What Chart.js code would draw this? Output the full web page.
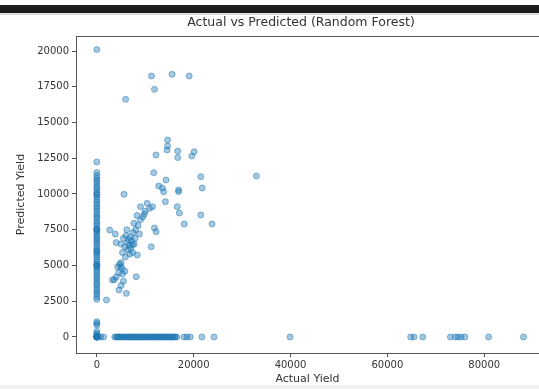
<!DOCTYPE html>
<html>
<head>
<meta charset="utf-8">
<script src="https://cdn.jsdelivr.net/npm/chart.js@4"></script>
<style>
  html, body { margin: 0; padding: 0; background: #fff; overflow: hidden; }
  #wrap { position: relative; width: 539px; height: 389px; }
  #topbar { position: absolute; left: 0; top: 5px; width: 539px; height: 8px; background: #1c1c1c; }
  #topline { position: absolute; left: 0; top: 13px; width: 539px; height: 2px; background: #ddd; }
  #bottomstrip { position: absolute; left: 0; top: 385px; width: 539px; height: 4px; background: #f0f0f0; }
  canvas { position: absolute; left: 0; top: 0; }
</style>
</head>
<body>
<div id="wrap">
  <canvas id="scatter" width="539" height="389"></canvas>
  <div id="topbar"></div>
  <div id="topline"></div>
  <div id="bottomstrip"></div>
</div>
<script>
// predicted values where actual yield is 0
const zeroActualPred = [0, 0, 0, 0, 60, 150, 250, 400, 840, 950, 1070,
  2640, 2800, 3000, 3150, 3300, 3500, 3650, 3800, 4000, 4150, 4300, 4500, 4650, 4800, 4950,
  5000, 5000, 5100, 5250, 5400, 5600, 5750, 5900, 6000, 6050, 6200, 6400, 6550, 6700, 6850, 7000,
  7150, 7300, 7450, 7500, 7500, 7600, 7800, 7950, 8100, 8300, 8450, 8600, 8800, 8950, 9100, 9300,
  9450, 9600, 9800, 9950, 10000, 10100, 10300, 10450, 10600, 10800, 10950, 11100, 11300,
  11500, 12240, 20100];

// actual values where predicted yield is 0
const zeroPredActual = [0, 0, 0, 300, 800, 1400, 3700, 4000, 4200, 4500, 4700, 5000, 5200,
  5500, 5700, 6000, 6200, 6500, 6700, 7000, 7200, 7500, 7700, 8000, 8200, 8500, 8700, 9000,
  9200, 9500, 9700, 10000, 10200, 10500, 10700, 11000, 11200, 11500, 11700, 12000, 12200,
  12500, 12700, 13000, 13200, 13500, 13700, 14000, 14200, 14500, 14700, 15000, 15200, 15500,
  15700, 16000, 16200, 16500, 18000, 18600, 19300, 21700, 24200,
  39900, 64800, 65500, 67300, 73000, 74000, 74600, 75200, 76000, 80900, 88100];

// remaining (actual, predicted) pairs
const pairActual = [11280, 15530, 19075, 11900, 5950,
  14600, 14600, 14500, 12200, 16700, 16700, 20100, 19600,
  11750, 14290, 13540, 12780, 16880, 21470, 21750, 32960,
  5600, 13800, 16880, 14150, 11490, 10400, 9020, 16610, 17030, 21470, 18050, 23790, 7650,
  2670, 11900, 12240, 11220, 8350, 8140, 3220, 4580, 6090, 1990,
  5000, 5500, 6000, 6300, 6600, 6900, 7200, 7500, 7000, 6400, 5800, 8000, 8500, 9000,
  8800, 7700, 6200, 5300, 6800, 7400, 9500, 10000, 8300, 7900, 6700, 5900, 4000, 3800,
  7380, 10900, 9800,
  4920, 4700, 5200, 5000, 4500, 5300, 4300, 4000, 5500, 5800, 3600, 5000];
const pairPredicted = [18250, 18370, 18250, 17320, 16620,
  13780, 13360, 13080, 12730, 13000, 12550, 12960, 12650,
  11490, 10980, 10420, 10560, 10280, 11210, 10420, 11260,
  9980, 10160, 10160, 9460, 9110, 9350, 9110, 9110, 8670, 8530, 7900, 7900, 7950,
  7480, 7620, 7360, 6310, 5730, 4220, 3990, 3290, 3050, 2590,
  6500, 6900, 7100, 6600, 6800, 7000, 6700, 7300, 6200, 6100, 6300, 7500, 7800, 8200,
  7200, 6500, 7500, 5900, 5800, 5900, 8400, 8800, 8500, 6900, 6400, 5600, 6600, 7200,
  6430, 9000, 8600,
  4920, 5100, 4800, 5200, 4500, 4400, 4900, 4200, 3900, 4600, 4000, 3600];

const xTicks = [0, 20000, 40000, 60000, 80000];
const yTicks = [0, 2500, 5000, 7500, 10000, 12500, 15000, 17500, 20000];

const points = [];
zeroActualPred.forEach(v => points.push({ x: 0, y: v }));
zeroPredActual.forEach(v => points.push({ x: v, y: 0 }));
pairActual.forEach((v, i) => points.push({ x: v, y: pairPredicted[i] }));

const frameColor = '#555';
const textColor = '#333';
const font = 'DejaVu Sans';

// title and top spine (plot frame is open on the right, cut off by the window)
const extras = {
  id: 'extras',
  afterDraw(chart) {
    const { ctx, chartArea } = chart;
    ctx.save();
    ctx.strokeStyle = frameColor;
    ctx.lineWidth = 1;
    ctx.beginPath();
    ctx.moveTo(chartArea.left, chartArea.top + 0.5);
    ctx.lineTo(chartArea.right, chartArea.top + 0.5);
    ctx.stroke();
    ctx.fillStyle = textColor;
    ctx.font = '12.5px "' + font + '"';
    ctx.textAlign = 'center';
    ctx.textBaseline = 'middle';
    ctx.fillText('Actual vs Predicted (Random Forest)', 301, 23);
    ctx.restore();
  }
};

new Chart(document.getElementById('scatter'), {
  type: 'scatter',
  data: {
    datasets: [{
      data: points,
      backgroundColor: 'rgba(31,119,180,0.4)',
      borderColor: 'rgba(31,119,180,0.5)',
      borderWidth: 1,
      pointRadius: 3,
    }]
  },
  options: {
    responsive: false,
    animation: false,
    layout: { autoPadding: false, padding: { top: 36, left: 0, right: 0, bottom: 0 } },
    plugins: { legend: { display: false }, tooltip: { enabled: false } },
    scales: {
      x: {
        type: 'linear',
        min: -4300,
        max: 91300,
        afterBuildTicks: s => { s.ticks = xTicks.map(v => ({ value: v })); },
        afterFit: s => { s.height = 36; },
        grid: { drawOnChartArea: false, color: frameColor, tickLength: 4 },
        border: { color: frameColor, width: 1 },
        ticks: { color: textColor, font: { family: font, size: 10 }, padding: 2, maxRotation: 0,
                 callback: v => String(v) },
        title: { display: true, text: 'Actual Yield', color: textColor,
                 font: { family: font, size: 11 }, padding: { top: 0, bottom: 3 } }
      },
      y: {
        type: 'linear',
        min: -1120,
        max: 21050,
        afterBuildTicks: s => { s.ticks = yTicks.map(v => ({ value: v })); },
        afterFit: s => { s.width = 76; },
        grid: { drawOnChartArea: false, color: frameColor, tickLength: 4 },
        border: { color: frameColor, width: 1 },
        ticks: { color: textColor, font: { family: font, size: 10 }, padding: 3,
                 callback: v => String(v) },
        title: { display: true, text: 'Predicted Yield', color: textColor,
                 font: { family: font, size: 11 }, padding: { top: 15, bottom: 0 } }
      }
    }
  },
  plugins: [extras]
});
</script>
</body>
</html>
